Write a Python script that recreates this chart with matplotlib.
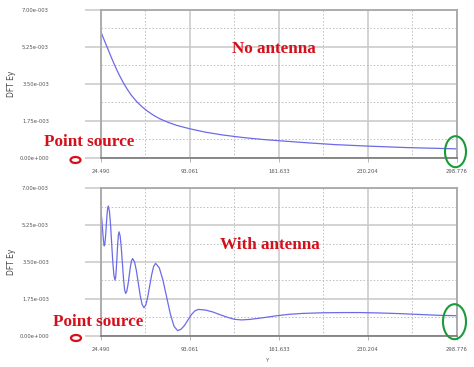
import matplotlib
matplotlib.use("Agg")
import matplotlib.pyplot as plt
from matplotlib.patches import Ellipse
from matplotlib.ticker import FixedLocator

# x ticks (Y position) and y ticks (DFT Ey)
x_ticks = [24.490, 93.061, 161.633, 230.204, 298.776]
x_tick_labels = ["24.490", "93.061", "161.633", "230.204", "298.776"]
y_ticks = [0.0, 1.75e-3, 3.50e-3, 5.25e-3, 7.00e-3]
y_tick_labels = ["0.00e+000", "1.75e-003", "3.50e-003", "5.25e-003", "7.00e-003"]

# no antenna curve (values in 1e-3)
x_no = [24.49, 26, 28, 30, 32, 34, 36, 38, 40, 42, 45, 48, 52, 56, 60, 65,
        70, 76, 83, 93, 105, 118, 132, 148, 165, 185, 205, 230, 260, 298.776]
v_no = [5.96, 5.72, 5.42, 5.12, 4.82, 4.53, 4.25, 3.99, 3.75, 3.52, 3.22,
        2.95, 2.66, 2.42, 2.22, 2.01, 1.84, 1.68, 1.53, 1.37, 1.21, 1.08,
        0.97, 0.87, 0.79, 0.70, 0.62, 0.55, 0.48, 0.42]

# with antenna curve (values in 1e-3)
x_with = [24.49, 25.2, 26.0, 26.5, 27.0,
          27.52, 28.03, 28.55, 29.07, 29.58, 30.1,
          30.97, 31.83, 32.7, 33.57, 34.43, 35.3,
          35.82, 36.33, 36.85, 37.37, 37.88, 38.4,
          39.25, 40.1, 40.95, 41.8, 42.65, 43.5,
          44.4, 45.3, 46.2, 47.1, 48.0, 48.9,
          50.35, 51.8, 53.25, 54.7, 56.15, 57.6,
          59.1, 60.6, 62.1, 63.6, 65.1, 66.6,
          69.43, 72.27, 75.1, 77.93, 80.77, 83.6,
          86.25, 88.9, 91.55, 94.2, 96.85, 99.5,
          105.07, 110.63, 116.2, 121.77, 127.33, 132.9,
          140, 150, 160, 170, 180, 195, 210, 225, 240, 255, 270, 285, 298.776]
v_with = [5.88, 5.45, 4.8, 4.45, 4.26,
          4.39, 4.74, 5.21, 5.69, 6.03, 6.16,
          5.92, 5.28, 4.40, 3.51, 2.87, 2.63,
          2.78, 3.21, 3.78, 4.36, 4.78, 4.93,
          4.73, 4.20, 3.47, 2.73, 2.20, 2.00,
          2.11, 2.42, 2.83, 3.25, 3.55, 3.66,
          3.50, 3.08, 2.49, 1.91, 1.48, 1.32,
          1.46, 1.85, 2.38, 2.90, 3.29, 3.43,
          3.22, 2.63, 1.83, 1.03, 0.44, 0.23,
          0.30, 0.48, 0.74, 0.99, 1.17, 1.24,
          1.21, 1.12, 0.99, 0.87, 0.77, 0.74,
          0.77, 0.85, 0.94, 1.01, 1.05, 1.08, 1.09, 1.09, 1.07, 1.04, 1.00, 0.96, 0.94]

fig = plt.figure(figsize=(4.74, 3.67), dpi=100)
W, H = 474.0, 367.0

def px_axes(left, top, right, bottom):
    return [left / W, 1 - bottom / H, (right - left) / W, (bottom - top) / H]

ax1 = fig.add_axes(px_axes(101, 10, 456.7, 157.7))
ax2 = fig.add_axes(px_axes(101, 188.3, 456.7, 335.5))

line_color = "#6b6be8"
ax1.plot(x_no, [v * 1e-3 for v in v_no], color=line_color, lw=0.9)
ax2.plot(x_with, [v * 1e-3 for v in v_with], color=line_color, lw=0.9)

minor_x = [(a + b) / 2 for a, b in zip(x_ticks[:-1], x_ticks[1:])]
minor_y = [(a + b) / 2 for a, b in zip(y_ticks[:-1], y_ticks[1:])]

for ax in (ax1, ax2):
    ax.set_xlim(x_ticks[0], x_ticks[-1])
    ax.set_ylim(y_ticks[0], y_ticks[-1])
    ax.set_xticks(x_ticks)
    ax.set_xticklabels(x_tick_labels)
    ax.set_yticks(y_ticks)
    ax.set_yticklabels(y_tick_labels)
    ax.xaxis.set_minor_locator(FixedLocator(minor_x))
    ax.yaxis.set_minor_locator(FixedLocator(minor_y))
    ax.grid(which="major", color="#c8c8c8", lw=1.1, ls="-")
    ax.grid(which="minor", color="#bdbdbd", lw=0.7, ls=(0, (1.5, 2)))
    ax.set_axisbelow(True)
    ax.tick_params(axis="y", which="major", length=11.5, width=1.1,
                   color="#c8c8c8", pad=26, labelsize=3.8, labelcolor="#555555")
    ax.tick_params(axis="x", which="major", length=3, width=0.6,
                   color="#aaaaaa", pad=5, labelsize=3.8, labelcolor="#555555")
    ax.tick_params(which="minor", length=0)
    for s in ("top", "right", "left"):
        ax.spines[s].set_color("#a8a8a8")
        ax.spines[s].set_linewidth(1.3)
    ax.spines["bottom"].set_color("#777777")
    ax.spines["bottom"].set_linewidth(1.2)
    ax.set_ylabel("DFT Ey", fontsize=5.5, color="#444444")
    ax.yaxis.set_label_coords(-0.238, 0.5)

ax2.set_xlabel("Y", fontsize=3.8, color="#555555")
ax2.xaxis.set_label_coords(0.469, -0.15)

red = "#d4101c"
green = "#1a9a3a"
txt = dict(color=red, fontsize=12.3, fontweight="bold", family="Liberation Serif")
fig.text(274 / W, 1 - 49 / H, "No antenna", ha="center", va="center", **txt)
fig.text(89 / W, 1 - 142 / H, "Point source", ha="center", va="center", **txt)
fig.text(270 / W, 1 - 245 / H, "With antenna", ha="center", va="center", **txt)
fig.text(98 / W, 1 - 322.5 / H, "Point source", ha="center", va="center", **txt)

def fig_ellipse(cx, cy, w, h, color, lw):
    e = Ellipse((cx / W, 1 - cy / H), w / W, h / H, transform=fig.transFigure,
                fill=False, edgecolor=color, lw=lw)
    fig.patches.append(e)

fig_ellipse(75.5, 160, 10, 6, red, 1.6)
fig_ellipse(76, 338, 10, 6, red, 1.6)
fig_ellipse(455.5, 151.7, 21, 31, green, 1.5)
fig_ellipse(454.5, 321.7, 23, 35, green, 1.5)

fig.savefig("out.png", dpi=100)
